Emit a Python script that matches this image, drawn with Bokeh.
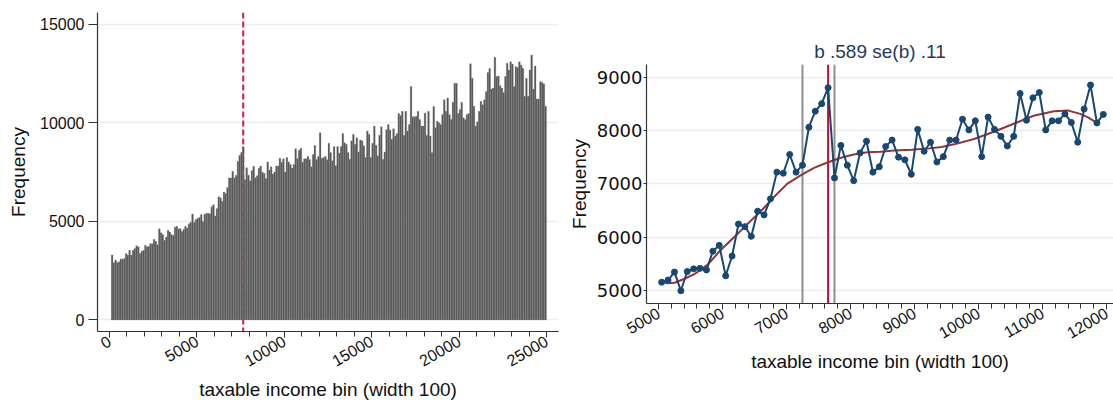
import math
from bokeh.plotting import figure
from bokeh.models import Span, Range1d, FixedTicker
from bokeh.layouts import row
from bokeh.embed import file_html
from bokeh.resources import INLINE

# ---------------- data ----------------
bin_width = 100
first_bin = 100
freq = [
    3300, 2900, 3040, 2920, 2950, 3090, 3090, 3120, 3370, 3290,
    3540, 3290, 3540, 3620, 3760, 3710, 3370, 3490, 3540, 3790,
    3710, 3740, 3870, 3870, 4090, 3990, 3820, 4630, 4430, 4330,
    4040, 4210, 4550, 4460, 4330, 4290, 4710, 4760, 4630, 4630,
    4490, 4600, 4760, 4660, 4880, 4960, 5380, 4960, 5100,
    5160, 5200, 5350, 5000, 5360, 5410, 5420, 5390, 5740, 5850,
    5280, 5650, 6250, 6200, 6020, 6490, 6420, 6720, 7220, 7200,
    7550, 7220, 7350, 8060, 8360, 8500, 8800, 7110, 7720, 7350,
    7060, 7580, 7800, 7220, 7320, 7700, 7820, 7500, 7450, 7180,
    8020, 7610, 7780, 7410, 7510, 7820, 7820, 8210, 8010, 8180,
    7510, 8250, 8020, 7890, 7710, 7890, 8690, 8190, 8610, 8710,
    8010, 8180, 8180, 8310, 8150, 7780, 8400, 8850, 8140,
    8300, 9500, 8200, 8250, 8300, 8130,
    8970, 8500, 8080, 8800, 7830, 8800, 8470, 8800, 9470, 9000,
    8920, 8500, 8160, 9090, 9420, 8920, 9250, 8530, 9140,
    9090, 8840, 8250, 9590, 9420, 8250, 8970, 9840, 8870, 8330,
    9370, 9810, 8160, 8530, 9670, 9920, 9640, 9170, 9710,
    9340, 9470, 10480, 10380, 10590, 9370, 10590, 9590, 9920, 11850,
    10310, 10310, 10340, 10590, 10170, 9840, 9840, 10510, 9370,
    10590, 9340, 8500, 10840, 9760, 10090, 10010, 9920, 10430,
    11180, 10590, 11270, 10430, 10180, 11050, 12020, 12020, 10480, 10680,
    11050, 10260, 10180, 10430, 10480, 13000, 12270, 10850, 9840, 10060,
    10590, 11100, 10930, 11180, 11600, 12560, 12770, 11720, 11770, 13330,
    12360, 12390, 11890, 11770, 11550, 12360, 13030, 12690, 13110, 12990,
    11850, 12860, 12820, 13110, 12940, 12780, 11350, 12270, 11350, 12690,
    13450, 11720, 12890, 11220, 11220, 12100, 12050, 11990, 10850,
]
bins = [first_bin + bin_width * i for i in range(len(freq))]

# zoomed window (right panel)
zoom_lo, zoom_hi = 5000, 11900
fit_x = [5050, 5150, 5250, 5400, 5560, 5770, 5970, 6180, 6390, 6600, 6800,
         7010, 7220, 7430, 7640, 7850, 8050, 8260, 8470, 8680, 8950, 9200,
         9420, 9620, 9930, 10240, 10550, 10860, 11180, 11390, 11590, 11720, 11850]
fit_y = [5160, 5140, 5150, 5220, 5310, 5490, 5760, 6000, 6250, 6490, 6750,
         7000, 7160, 7300, 7400, 7490, 7550, 7590, 7600, 7625, 7640, 7660,
         7690, 7740, 7840, 7975, 8125, 8275, 8360, 8375, 8310, 8240, 8140]
kink = 7650
window_low, window_high = 7250, 7750
b_est, se_b = ".589", ".11"

left_xticks = [0, 5000, 10000, 15000, 20000, 25000]
left_xminor = list(range(0, 26000, 1000))
left_yticks = [0, 5000, 10000, 15000]
right_xticks = [5000, 6000, 7000, 8000, 9000, 10000, 11000, 12000]
right_xminor = list(range(5000, 12200, 200))
right_yticks = [5000, 6000, 7000, 8000, 9000]

FONT = "Liberation Sans"
NAVY = "#1a476f"
GRID = "#e8eff1"
AXIS = "#333333"


def style(p, ytick_font="16px", ytick_family=FONT):
    p.frame_align = False
    p.outline_line_color = None
    p.background_fill_color = "white"
    p.border_fill_color = "white"
    p.xgrid.visible = False
    p.ygrid.grid_line_color = GRID
    p.ygrid.grid_line_width = 1.5
    for ax in (p.xaxis[0], p.yaxis[0]):
        ax.axis_line_color = AXIS
        ax.axis_line_width = 1.2
        ax.major_tick_line_color = AXIS
        ax.minor_tick_line_color = AXIS
        ax.axis_label_text_font = FONT
        ax.axis_label_text_font_size = "19px"
        ax.axis_label_text_font_style = "normal"
        ax.axis_label_text_color = "#111111"
        ax.major_label_text_font = FONT
        ax.major_label_text_font_size = "16px"
        ax.major_label_text_color = "#111111"
    p.yaxis[0].major_label_text_font_size = ytick_font
    p.yaxis[0].major_label_text_font = ytick_family
    p.xaxis[0].major_label_orientation = math.pi / 6
    p.xaxis[0].major_tick_in = 0
    p.xaxis[0].minor_tick_in = 0
    p.yaxis[0].major_tick_in = 0
    p.yaxis[0].minor_tick_line_color = None


# ---------------- left: histogram ----------------
p1 = figure(width=565, height=403, output_backend="svg", toolbar_location=None,
            x_range=Range1d(-686, 25686), y_range=Range1d(-589, 15608),
            min_border_left=97, min_border_right=7, min_border_top=12,
            min_border_bottom=69)
p1.add_layout(Span(location=kink, dimension="height", line_color="#d01c4b",
                   line_width=2, line_dash="6 3", level="underlay"))
p1.quad(left=bins, right=[b + bin_width for b in bins], top=freq, bottom=0,
        fill_color="#545454", line_color="#8e8e8e", line_width=0.3)
style(p1)
p1.xaxis[0].ticker = FixedTicker(ticks=left_xticks, minor_ticks=left_xminor)
p1.yaxis[0].ticker = FixedTicker(ticks=left_yticks, minor_ticks=[])
p1.xaxis[0].major_tick_out = 6
p1.xaxis[0].minor_tick_out = 5
p1.yaxis[0].major_tick_out = 9
p1.yaxis[0].major_label_standoff = 4
p1.xaxis[0].major_label_standoff = 2
p1.xaxis[0].axis_label = "taxable income bin (width 100)"
p1.yaxis[0].axis_label = "Frequency"
p1.xaxis[0].axis_label_standoff = 4
p1.yaxis[0].axis_label_standoff = 8

# ---------------- right: zoomed bunching plot ----------------
zx = [b + bin_width / 2 for b in bins if zoom_lo <= b <= zoom_hi]
zy = [f for b, f in zip(bins, freq) if zoom_lo <= b <= zoom_hi]

p2 = figure(width=548, height=403, output_backend="svg", toolbar_location=None,
            x_range=Range1d(4813, 12109), y_range=Range1d(4762, 9234),
            min_border_left=81, min_border_right=0, min_border_top=64,
            min_border_bottom=100,
            title=f"b {b_est} se(b) {se_b}")
p2.title.align = "center"
p2.title.text_font = FONT
p2.title.text_font_size = "19px"
p2.title.text_font_style = "normal"
p2.title.text_color = "#1f3a5f"
p2.title.standoff = 6
for loc, col in ((window_low, "#8f8f8f"), (window_high, "#8f8f8f"), (kink, "#cc0a32")):
    p2.add_layout(Span(location=loc, dimension="height", line_color=col,
                       line_width=2, level="underlay"))
p2.line(fit_x, fit_y, line_color="#90353b", line_width=2)
p2.line(zx, zy, line_color=NAVY, line_width=2)
p2.scatter(zx, zy, size=6, fill_color=NAVY, line_color=NAVY)
style(p2, ytick_font="18px", ytick_family="DejaVu Sans")
p2.xaxis[0].ticker = FixedTicker(ticks=right_xticks, minor_ticks=right_xminor)
p2.yaxis[0].ticker = FixedTicker(ticks=right_yticks, minor_ticks=[])
p2.xaxis[0].major_tick_out = 6
p2.xaxis[0].minor_tick_out = 5
p2.yaxis[0].major_tick_out = 3
p2.yaxis[0].major_label_standoff = 1
p2.xaxis[0].major_label_standoff = 2
p2.xaxis[0].axis_label = "taxable income bin (width 100)"
p2.yaxis[0].axis_label = "Frequency"
p2.xaxis[0].axis_label_standoff = 4
p2.yaxis[0].axis_label_standoff = 4

layout = row(p1, p2, spacing=0)
open("out.html", "w").write(file_html(layout, INLINE))
